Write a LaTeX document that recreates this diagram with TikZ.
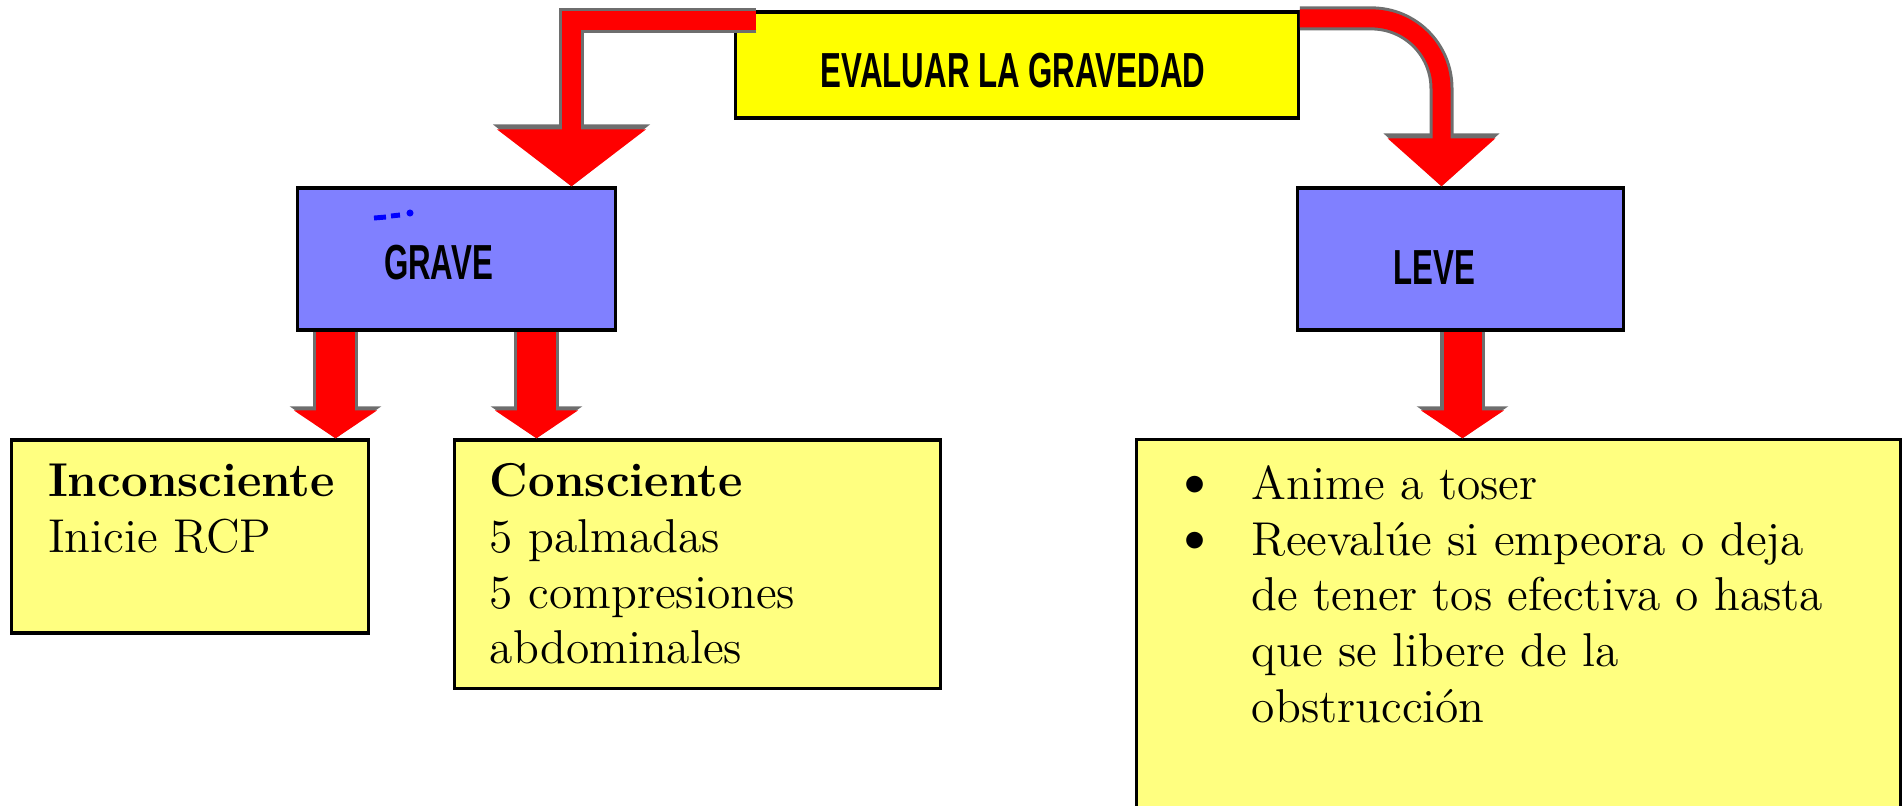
\documentclass[tikz,border=0pt]{standalone}
\usepackage{fontspec}
\newfontfamily\rotulofont{Liberation Sans}
\usetikzlibrary{arrows.meta}
\definecolor{amarillo}{RGB}{255,255,0}
\definecolor{crema}{RGB}{255,255,128}
\definecolor{lila}{RGB}{128,128,255}
\definecolor{gris}{RGB}{110,110,110}
\newcommand{\rotulo}[1]{\scalebox{0.635}[1]{\rotulofont\bfseries\fontsize{14}{16}\selectfont #1}}
\newcommand{\texto}{\fontsize{13.5}{15.9}\selectfont}
\begin{document}
\begin{tikzpicture}[x=0.01cm,y=-0.01cm,
    caja/.style={draw=black,line width=0.9pt,inner sep=0pt},
    flecha/.style n args={6}{draw=red,line width=#1,-{Triangle[width=#2,length=#3]},
      preaction={draw=gris,line width=#4,-{Triangle[width=#5,length=#6]}}}]
  \useasboundingbox (0,0) rectangle (1902,805);
  \clip (0,0) rectangle (1902,805);
  \node[caja,fill=amarillo,minimum width=5.62cm,minimum height=1.06cm,
    label={[shift={(-4,6)}]center:\rotulo{EVALUAR LA GRAVEDAD}}] (evaluar) at (1017,65) {};
  \node[caja,fill=lila,minimum width=3.17cm,minimum height=1.42cm,
    label={[shift={(-18,4)}]center:\rotulo{GRAVE}}] (grave) at (456.5,259) {};
  \node[caja,fill=lila,minimum width=3.25cm,minimum height=1.42cm,
    label={[shift={(-26,9)}]center:\rotulo{LEVE}}] (leve) at (1460.5,259) {};
  \node[caja,fill=crema,minimum width=3.56cm,minimum height=1.93cm] (incons) at (190,536.5) {};
  \node[caja,fill=crema,minimum width=4.85cm,minimum height=2.48cm] (cons) at (697.5,564) {};
  \node[caja,fill=crema,minimum width=7.63cm,minimum height=4cm] (tos) at (1518.5,640) {};
  \node[anchor=north west,inner sep=0pt] (inconsT) at ([shift={(37,18)}]incons.north west)
    {\texto\begin{tabular}{@{}l@{}}\textbf{Inconsciente}\\ Inicie RCP\end{tabular}};
  \node[anchor=north west,inner sep=0pt] (consT) at ([shift={(36,18)}]cons.north west)
    {\texto\begin{tabular}{@{}l@{}}\textbf{Consciente}\\ 5 palmadas\\ 5 compresiones\\ abdominales\end{tabular}};
  \node[anchor=north west,inner sep=0pt] (tosT) at ([shift={(36,21)}]tos.north west)
    {\texto\begin{tabular}{@{}p{0.8cm}@{}l@{}}\scalebox{1.3}{\textbullet} & Anime a toser\\
      \scalebox{1.3}{\textbullet} & Reevalúe si empeora o deja\\ & de tener tos efectiva o hasta\\
      & que se libere de la\\ & obstrucción\end{tabular}};
  \draw[blue,line width=1.4pt] (374,218) -- (386,217) (391,216) -- (400,215);
  \fill[blue] (410,213) circle (1pt);
  \coordinate (g1) at ([shift={(-121,0)}]grave.south);
  \coordinate (g2) at ([shift={(80,0)}]grave.south);
  \coordinate (l1) at ([shift={(2,0)}]leve.south);
  \draw[flecha={0.19cm}{1.46cm}{0.57cm}{0.25cm}{1.54cm}{0.62cm}]
    ([shift={(22,10)}]evaluar.north west) -| ([shift={(115,0)}]grave.north);
  \draw[flecha={0.18cm}{1.05cm}{0.48cm}{0.24cm}{1.13cm}{0.53cm},rounded corners=0.7cm]
    ([shift={(0,8)}]evaluar.north east) -| ([shift={(-19,0)}]leve.north);
  \draw[flecha={0.38cm}{0.82cm}{0.28cm}{0.44cm}{0.9cm}{0.32cm}] (g1) -- (g1 |- incons.north);
  \draw[flecha={0.38cm}{0.82cm}{0.28cm}{0.44cm}{0.9cm}{0.32cm}] (g2) -- (g2 |- cons.north);
  \draw[flecha={0.38cm}{0.82cm}{0.28cm}{0.44cm}{0.9cm}{0.32cm}] (l1) -- (l1 |- tos.north);
\end{tikzpicture}
\end{document}
